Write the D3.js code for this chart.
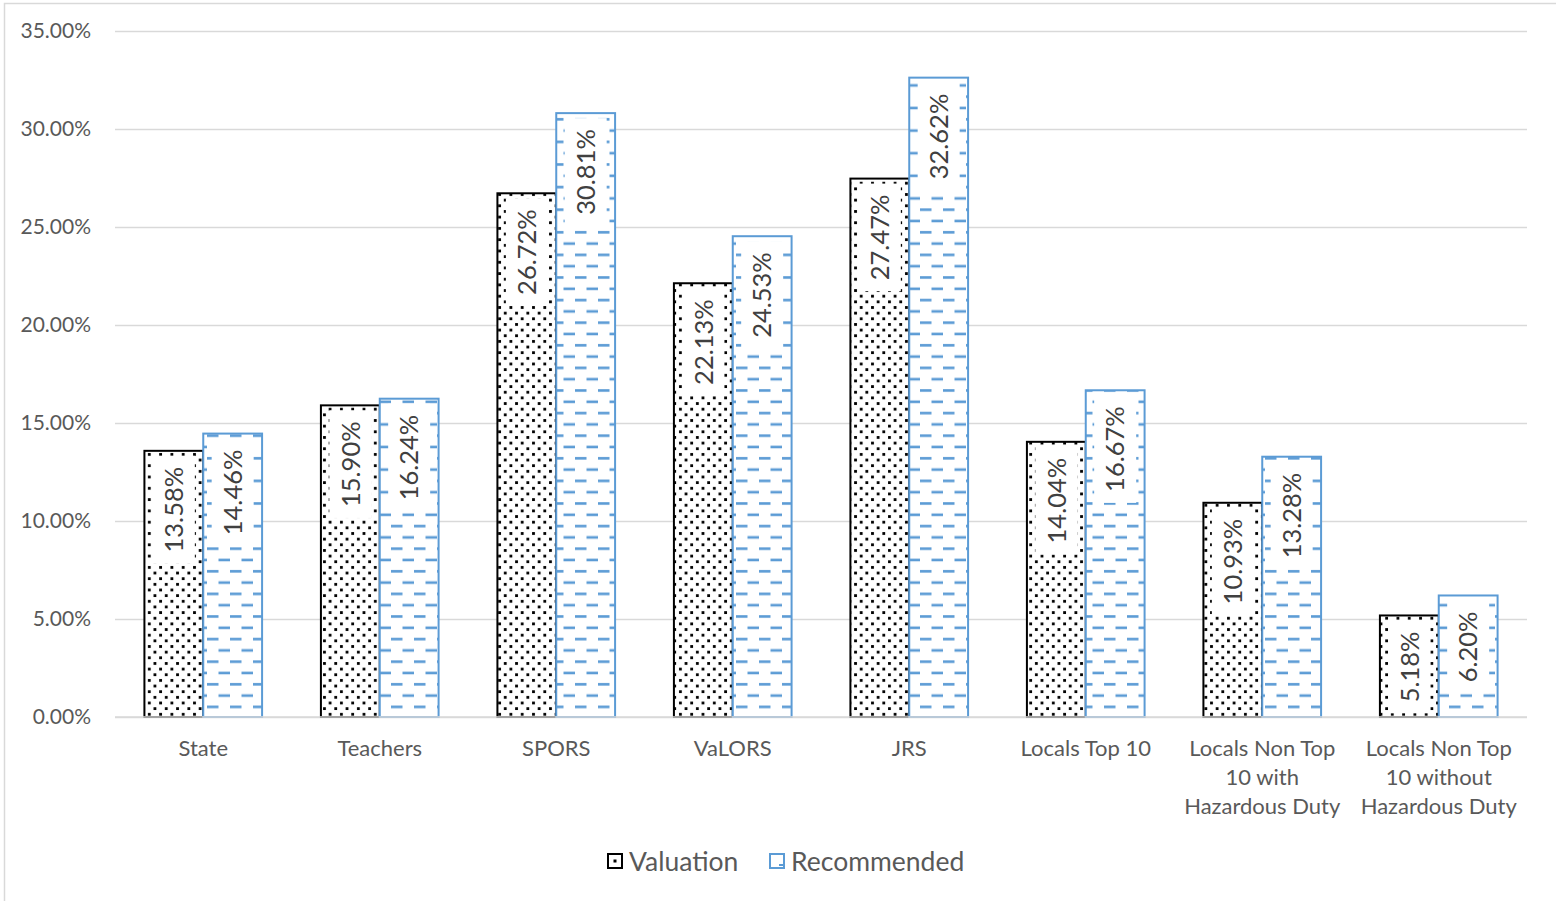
<!DOCTYPE html>
<html>
<head>
<meta charset="utf-8">
<script src="https://cdn.jsdelivr.net/npm/d3@7"></script>
<style>
  html, body { margin: 0; padding: 0; background: #fff; }
  svg { display: block; }
  text { font-family: Lato, "Open Sans", sans-serif; }
</style>
</head>
<body>
<svg id="chart" width="1556" height="901"></svg>
<script>
// Contribution rates by plan
const categories = [
  ["State"],
  ["Teachers"],
  ["SPORS"],
  ["VaLORS"],
  ["JRS"],
  ["Locals Top 10"],
  ["Locals Non Top", "10 with", "Hazardous Duty"],
  ["Locals Non Top", "10 without", "Hazardous Duty"]
];
const valuation   = [13.58, 15.90, 26.72, 22.13, 27.47, 14.04, 10.93, 5.18];
const recommended = [14.46, 16.24, 30.81, 24.53, 32.62, 16.67, 13.28, 6.20];
const seriesNames = ["Valuation", "Recommended"];
const yTicks = [0, 5, 10, 15, 20, 25, 30, 35];

const W = 1556, H = 901;
const plot = { left: 115, right: 1527, top: 31, bottom: 717 };
const blue = "#5B9BD5";

const svg = d3.select("#chart");
const defs = svg.append("defs");

// Dotted fill for the valuation series
const dots = defs.append("pattern")
  .attr("id", "dots").attr("patternUnits", "userSpaceOnUse")
  .attr("width", 11.3).attr("height", 11.3);
dots.append("rect").attr("width", 11.3).attr("height", 11.3).attr("fill", "#fff");
dots.append("rect").attr("x", 1).attr("y", 1).attr("width", 2.8).attr("height", 2.8).attr("fill", "#000");
dots.append("rect").attr("x", 6.65).attr("y", 6.65).attr("width", 2.8).attr("height", 2.8).attr("fill", "#000");

// Dashed horizontal fill for the recommended series
const dash = defs.append("pattern")
  .attr("id", "dash").attr("patternUnits", "userSpaceOnUse")
  .attr("width", 23).attr("height", 22.6);
dash.append("rect").attr("width", 23).attr("height", 22.6).attr("fill", "#fff");
dash.append("rect").attr("x", 0).attr("y", 5).attr("width", 11.5).attr("height", 2.6).attr("fill", blue);
dash.append("rect").attr("x", 11.5).attr("y", 16.3).attr("width", 11.5).attr("height", 2.6).attr("fill", blue);

// Chart frame
svg.append("rect")
  .attr("x", 4.5).attr("y", 3.5).attr("width", W + 10).attr("height", H + 10)
  .attr("fill", "none").attr("stroke", "#d9d9d9").attr("stroke-width", 1.5);

const x = d3.scaleBand()
  .domain(d3.range(categories.length))
  .range([plot.left, plot.right]);
const xs = d3.scaleBand()
  .domain([0, 1])
  .range([0, x.bandwidth()])
  .paddingInner(0).paddingOuter(0.5);
const y = d3.scaleLinear().domain([0, 35]).range([plot.bottom, plot.top]);

// Gridlines and value axis
const yAxis = d3.axisLeft(y)
  .tickValues(yTicks)
  .tickSize(-(plot.right - plot.left))
  .tickPadding(24)
  .tickFormat(d => d.toFixed(2) + "%");
const gy = svg.append("g").attr("transform", `translate(${plot.left},0)`).call(yAxis);
gy.select(".domain").remove();
gy.selectAll(".tick line").attr("stroke", "#d9d9d9").attr("stroke-width", 1.5);
gy.selectAll(".tick text")
  .attr("fill", "#595959").attr("font-size", 21);

// Bars
const series = [
  { name: seriesNames[0], values: valuation, fill: "url(#dots)", stroke: "#000" },
  { name: seriesNames[1], values: recommended, fill: "url(#dash)", stroke: blue }
];

series.forEach((s, si) => {
  const g = svg.append("g");
  g.selectAll("rect")
    .data(s.values)
    .join("rect")
    .attr("x", (d, i) => x(i) + xs(si))
    .attr("y", d => y(d))
    .attr("width", xs.bandwidth())
    .attr("height", d => y(0) - y(d))
    .attr("fill", s.fill)
    .attr("stroke", s.stroke)
    .attr("stroke-width", 2);
});

// Rotated value labels on white boxes, placed at the inside end of each bar
series.forEach((s, si) => {
  s.values.forEach((v, i) => {
    const cx = x(i) + xs(si) + xs.bandwidth() / 2;
    const top = y(v);
    const lg = svg.append("g");
    const t = lg.append("text")
      .attr("transform", `translate(${cx},${top + 16}) rotate(-90)`)
      .attr("text-anchor", "end")
      .attr("dy", "0.36em")
      .attr("font-size", 25.5)
      .attr("fill", "#404040")
      .text(v.toFixed(2) + "%");
    const len = t.node().getComputedTextLength();
    lg.insert("rect", "text")
      .attr("x", cx - 21)
      .attr("y", top + 5)
      .attr("width", 42)
      .attr("height", len + 22)
      .attr("fill", "#fff");
  });
});

// Category axis baseline
svg.append("line")
  .attr("x1", plot.left).attr("x2", plot.right)
  .attr("y1", y(0)).attr("y2", y(0))
  .attr("stroke", "#d9d9d9").attr("stroke-width", 1.5);

// Category labels
const cat = svg.append("g");
categories.forEach((lines, i) => {
  const t = cat.append("text")
    .attr("x", x(i) + x.bandwidth() / 2)
    .attr("y", 748)
    .attr("text-anchor", "middle")
    .attr("font-size", 22)
    .attr("fill", "#595959");
  lines.forEach((ln, k) => {
    t.append("tspan")
      .attr("x", x(i) + x.bandwidth() / 2)
      .attr("y", 748 + k * 29)
      .attr("dy", "0.36em")
      .text(ln);
  });
});

// Legend
const legend = svg.append("g");
const legendItems = [
  { name: seriesNames[0], x: 607, stroke: "#000" },
  { name: seriesNames[1], x: 769, stroke: blue }
];
legendItems.forEach((it, k) => {
  legend.append("rect")
    .attr("x", it.x + 1).attr("y", 854).attr("width", 14).attr("height", 14)
    .attr("fill", "#fff").attr("stroke", it.stroke).attr("stroke-width", 2);
  if (k === 0) {
    legend.append("rect").attr("x", it.x + 6.5).attr("y", 859.5)
      .attr("width", 3).attr("height", 3).attr("fill", "#000");
  } else {
    legend.append("rect").attr("x", it.x + 10).attr("y", 864)
      .attr("width", 4).attr("height", 2).attr("fill", blue);
  }
  legend.append("text")
    .attr("x", it.x + 22).attr("y", 861)
    .attr("dy", "0.36em")
    .attr("font-size", 26.5)
    .attr("fill", "#595959")
    .text(it.name);
});
</script>
</body>
</html>
